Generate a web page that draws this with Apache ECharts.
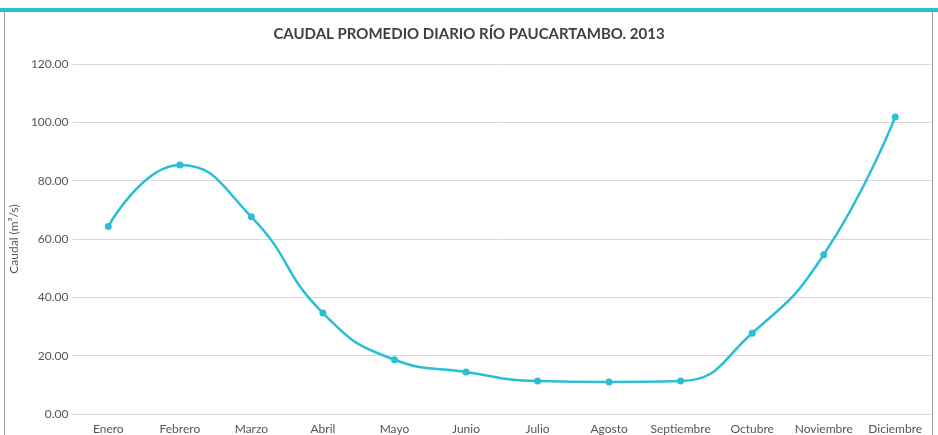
<!DOCTYPE html>
<html>
<head>
<meta charset="utf-8">
<script src="https://cdn.jsdelivr.net/npm/echarts@6/dist/echarts.min.js"></script>
<style>
  html, body { margin: 0; padding: 0; background: #fff; }
  #chart { width: 938px; height: 435px; }
</style>
</head>
<body>
<div id="chart"></div>
<script>
const months = ['Enero', 'Febrero', 'Marzo', 'Abril', 'Mayo', 'Junio', 'Julio', 'Agosto', 'Septiembre', 'Octubre', 'Noviembre', 'Diciembre']
const caudal = [64.3, 85.4, 67.6, 34.6, 18.6, 14.4, 11.3, 11.0, 11.3, 27.7, 54.6, 101.8]
const yTicks = { min: 0, max: 120, interval: 20 }

const myChart = echarts.init(document.getElementById('chart'))

const option = {
  animation: false,
  title: {
    text: 'CAUDAL PROMEDIO DIARIO RÍO PAUCARTAMBO. 2013',
    left: 'center',
    top: 22,
    textStyle: {
      fontFamily: 'Lato',
      fontSize: 15,
      fontWeight: 'bold',
      color: '#404040'
    }
  },
  graphic: [
    // cyan band on top
    { type: 'rect', shape: { x: 0, y: 8, width: 938, height: 4 }, style: { fill: '#2bbfd6' } },
    // frame
    { type: 'line', shape: { x1: 4.5, y1: 12, x2: 4.5, y2: 435 }, style: { stroke: '#999', lineWidth: 1 } },
    { type: 'line', shape: { x1: 932.5, y1: 12, x2: 932.5, y2: 435 }, style: { stroke: '#999', lineWidth: 1 } }
  ],
  grid: {
    left: 68,
    right: 7,
    top: 64,
    bottom: 18
  },
  xAxis: {
    type: 'category',
    data: months,
    boundaryGap: true,
    axisLine: { show: false },
    axisTick: { show: false },
    axisLabel: {
      interval: 0,
      margin: 9,
      fontFamily: 'Lato',
      fontSize: 12,
      color: '#555'
    }
  },
  yAxis: {
    type: 'value',
    min: yTicks.min,
    max: yTicks.max,
    interval: yTicks.interval,
    name: 'Caudal (m³/s)',
    nameLocation: 'middle',
    nameGap: 50,
    nameTextStyle: { fontFamily: 'Lato', fontSize: 12, color: '#555' },
    axisLine: { show: false },
    axisTick: { show: false },
    axisLabel: {
      margin: 4,
      fontFamily: 'Lato',
      fontSize: 12,
      color: '#555',
      formatter: v => v.toFixed(2)
    },
    splitLine: { lineStyle: { color: '#d9d9d9', width: 1 } }
  },
  series: [
    {
      type: 'line',
      data: caudal,
      smooth: 0.5,
      symbol: 'circle',
      symbolSize: 7,
      itemStyle: { color: '#2bbfd6' },
      lineStyle: { color: '#2bbfd6', width: 2.5 }
    }
  ]
}

option && myChart.setOption(option)
</script>
</body>
</html>
